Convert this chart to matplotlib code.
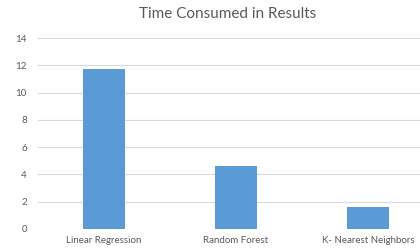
import matplotlib
matplotlib.use('Agg')
import matplotlib.pyplot as plt

models = ['Linear Regression', 'Random Forest', 'K- Nearest Neighbors']
time_consumed = [11.75, 4.6, 1.6]
y_ticks = [0, 2, 4, 6, 8, 10, 12, 14]

plt.rcParams['font.family'] = ['Lato', 'DejaVu Sans']

fig = plt.figure(figsize=(4.2, 2.5), dpi=100)
ax = fig.add_axes([0.0905, 0.084, 0.943, 0.764])

ax.bar(range(len(models)), time_consumed, width=0.32, color='#5b9bd5', zorder=3)
ax.set_xlim(-0.5, 2.5)
ax.set_ylim(0, 14)
ax.set_yticks(y_ticks)
ax.set_xticks(range(len(models)))
ax.set_xticklabels(models)

ax.grid(axis='y', color='#d9d9d9', linewidth=0.8, zorder=0)
for s in ax.spines.values():
    s.set_visible(False)
ax.tick_params(length=0, colors='#595959', labelsize=7)
ax.tick_params(axis='y', pad=8)
ax.tick_params(axis='x', pad=5)

fig.text(0.543, 0.944, 'Time Consumed in Results', ha='center', va='center',
         fontsize=11, color='#595959')

fig.savefig('out.png', dpi=100)
